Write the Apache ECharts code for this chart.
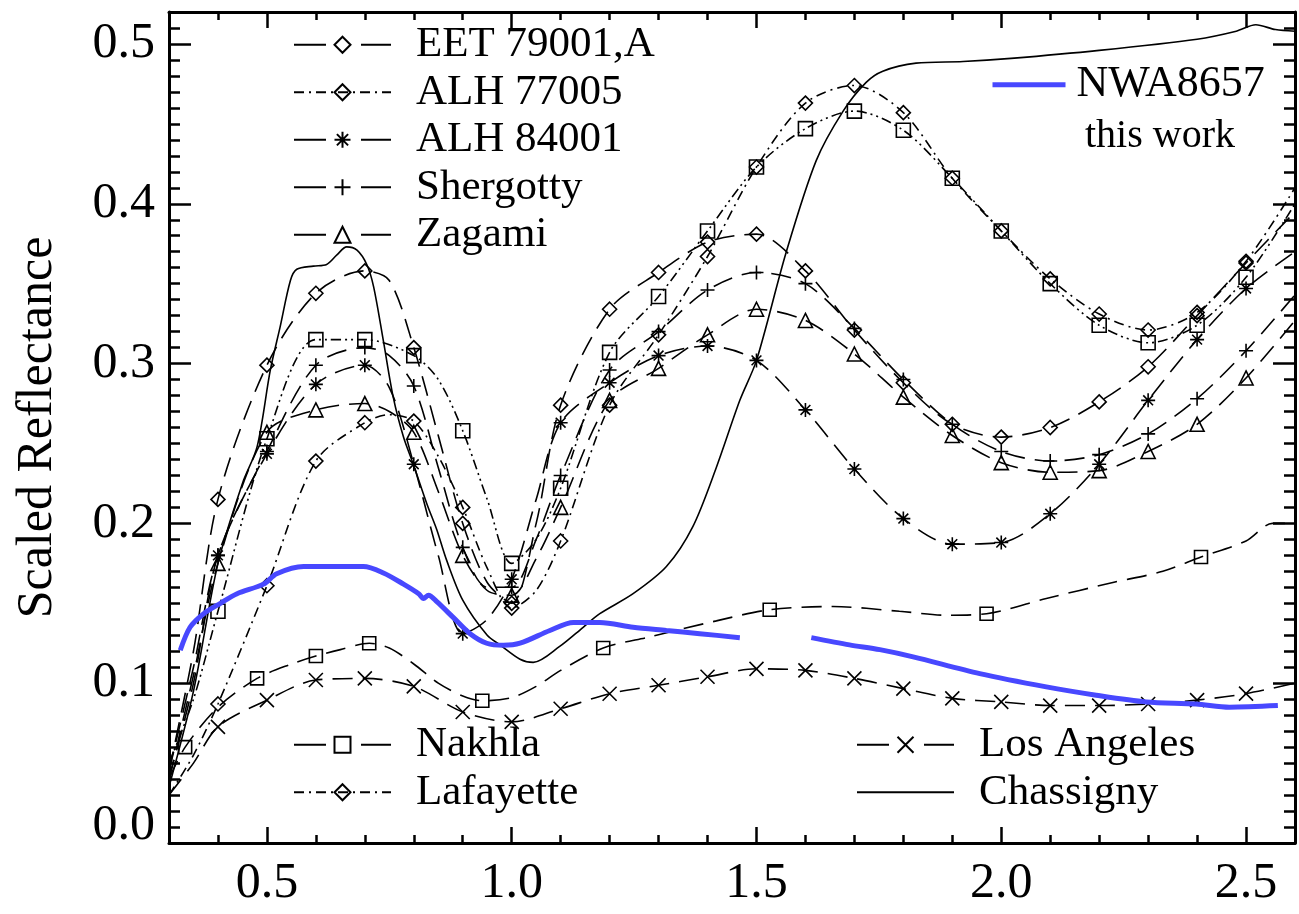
<!DOCTYPE html>
<html>
<head>
<meta charset="utf-8">
<title>Scaled reflectance of Martian meteorites</title>
<script src="https://cdn.jsdelivr.net/npm/echarts@6/dist/echarts.min.js"></script>
<style>
  html, body { margin: 0; padding: 0; background: #fff; }
  #chart { width: 1299px; height: 914px; }
</style>
</head>
<body>
<div id="chart"></div>
<script>
// ---- wavelength (µm) / reflectance data ----
const eetX = [0.3,0.35,0.4,0.5,0.6,0.7,0.75,0.8,0.85,0.9,0.95,1.0,1.05,1.1,1.2,1.3,1.4,1.5,1.6,1.7,1.8,1.9,2.0,2.1,2.2,2.3,2.4,2.5,2.6];
const eetY = [0.045,0.12,0.215,0.299,0.344,0.358,0.352,0.31,0.255,0.2,0.163,0.15,0.2,0.274,0.334,0.357,0.376,0.381,0.358,0.321,0.288,0.262,0.254,0.26,0.276,0.298,0.33,0.363,0.395];

const alh77005X = [0.3,0.35,0.4,0.5,0.6,0.7,0.75,0.8,0.85,0.9,0.95,1.0,1.05,1.1,1.2,1.3,1.4,1.5,1.6,1.7,1.8,1.9,2.0,2.1,2.2,2.3,2.4,2.5,2.6];
const alh77005Y = [0.03,0.055,0.087,0.161,0.239,0.263,0.268,0.264,0.242,0.21,0.172,0.147,0.158,0.189,0.274,0.318,0.367,0.423,0.463,0.474,0.457,0.416,0.383,0.353,0.331,0.321,0.332,0.364,0.41];

const alh84001X = [0.3,0.35,0.4,0.5,0.6,0.7,0.75,0.8,0.85,0.9,0.95,1.0,1.05,1.1,1.2,1.3,1.4,1.5,1.6,1.7,1.8,1.9,2.0,2.1,2.2,2.3,2.4,2.5,2.6];
const alh84001Y = [0.04,0.1,0.18,0.2435,0.287,0.299,0.285,0.237,0.18,0.131,0.14,0.165,0.215,0.263,0.288,0.305,0.311,0.302,0.271,0.234,0.203,0.187,0.188,0.206,0.237,0.277,0.315,0.347,0.37];

const shergottyX = [0.3,0.35,0.4,0.5,0.6,0.7,0.75,0.8,0.85,0.9,0.95,1.0,1.05,1.1,1.2,1.3,1.4,1.5,1.6,1.7,1.8,1.9,2.0,2.1,2.2,2.3,2.4,2.5,2.6];
const shergottyY = [0.045,0.11,0.18,0.245,0.299,0.31,0.305,0.286,0.235,0.185,0.16,0.16,0.19,0.23,0.296,0.32,0.346,0.357,0.35,0.322,0.29,0.262,0.245,0.239,0.243,0.256,0.278,0.308,0.343];

const zagamiX = [0.3,0.35,0.4,0.5,0.6,0.7,0.75,0.8,0.85,0.9,0.95,1.0,1.05,1.1,1.2,1.3,1.4,1.5,1.6,1.7,1.8,1.9,2.0,2.1,2.2,2.3,2.4,2.5,2.6];
const zagamiY = [0.04,0.105,0.175,0.257,0.271,0.275,0.27,0.257,0.22,0.18,0.158,0.155,0.178,0.21,0.277,0.297,0.318,0.334,0.327,0.306,0.279,0.255,0.238,0.232,0.233,0.245,0.262,0.291,0.327];

const nakhlaX = [0.3,0.333,0.4,0.48,0.55,0.6,0.65,0.709,0.75,0.8,0.85,0.9,0.94,1.0,1.05,1.1,1.187,1.282,1.418,1.527,1.656,1.792,1.888,1.97,2.092,2.228,2.33,2.408,2.5,2.554,2.6];
const nakhlaY = [0.04,0.06,0.085,0.103,0.112,0.117,0.121,0.125,0.122,0.112,0.1,0.092,0.089,0.091,0.098,0.108,0.122,0.129,0.139,0.146,0.148,0.145,0.1425,0.1435,0.153,0.163,0.17,0.179,0.189,0.2,0.2];
const nakhlaMarks = [0.333,0.48,0.6,0.709,0.94,1.187,1.527,1.97,2.408];

const lafayetteX = [0.3,0.35,0.4,0.5,0.6,0.7,0.8,0.85,0.9,0.95,1.0,1.05,1.1,1.2,1.3,1.4,1.5,1.6,1.7,1.8,1.9,2.0,2.1,2.2,2.3,2.4,2.5,2.6];
const lafayetteY = [0.05,0.09,0.145,0.253,0.315,0.315,0.305,0.29,0.258,0.215,0.175,0.19,0.222,0.307,0.342,0.383,0.423,0.447,0.458,0.446,0.416,0.383,0.35,0.324,0.313,0.324,0.354,0.4];

const losAngelesX = [0.3,0.35,0.4,0.5,0.6,0.7,0.8,0.9,1.0,1.1,1.2,1.3,1.4,1.5,1.6,1.7,1.8,1.9,2.0,2.1,2.2,2.3,2.4,2.5,2.6];
const losAngelesY = [0.03,0.05,0.0727,0.0894,0.102,0.103,0.098,0.082,0.0758,0.084,0.0934,0.0987,0.104,0.109,0.108,0.103,0.0966,0.0905,0.0883,0.086,0.086,0.087,0.0894,0.0935,0.1];

const chassignyX = [0.3,0.35,0.4,0.45,0.48,0.507,0.527,0.548,0.561,0.595,0.622,0.643,0.663,0.684,0.704,0.718,0.738,0.758,0.779,0.799,0.827,0.847,0.867,0.9,0.95,0.976,1.017,1.044,1.098,1.146,1.18,1.248,1.316,1.37,1.418,1.466,1.5,1.561,1.622,1.677,1.724,1.758,1.826,1.922,2.02,2.2,2.4,2.48,2.52,2.56,2.6];
const chassignyY = [0.035,0.095,0.175,0.225,0.248,0.296,0.323,0.352,0.359,0.361,0.362,0.368,0.373,0.371,0.362,0.348,0.314,0.279,0.254,0.237,0.212,0.196,0.177,0.152,0.13,0.124,0.115,0.113,0.123,0.135,0.1435,0.156,0.173,0.198,0.235,0.277,0.302,0.37,0.427,0.458,0.476,0.483,0.488,0.489,0.491,0.496,0.503,0.508,0.512,0.509,0.508];

// NWA 8657 was measured in two pieces (gap around 1.5 µm)
const nwaVisX = [0.323,0.343,0.371,0.405,0.439,0.493,0.52,0.575,0.643,0.697,0.738,0.779,0.81,0.82,0.83,0.847,0.881,0.915,0.949,0.983,1.017,1.078,1.126,1.18,1.248,1.316,1.384,1.466];
const nwaVisY = [0.1206,0.135,0.1435,0.15,0.156,0.162,0.1685,0.173,0.173,0.173,0.169,0.162,0.156,0.153,0.155,0.151,0.141,0.131,0.125,0.1237,0.125,0.133,0.138,0.138,0.135,0.133,0.131,0.1285];
const nwaIrX = [1.612,1.69,1.752,1.82,1.956,2.092,2.194,2.296,2.398,2.466,2.565];
const nwaIrY = [0.1285,0.124,0.121,0.1165,0.106,0.0977,0.0925,0.0883,0.087,0.085,0.086];

// symbols are plotted every 0.1 µm on the library curves
const tenthMarks = [0.4,0.5,0.6,0.7,0.8,0.9,1.0,1.1,1.2,1.3,1.4,1.5,1.6,1.7,1.8,1.9,2.0,2.1,2.2,2.3,2.4,2.5];

// axis ticks / labels
const xMajorTicks = [0.5, 1.0, 1.5, 2.0, 2.5];
const yMajorTicks = [0.0, 0.1, 0.2, 0.3, 0.4, 0.5];

const SERIF = '"Liberation Serif", "Times New Roman", serif';
const SYM_PLUS = 'path://M5,0L5,10M0,5L10,5';
const SYM_CROSS = 'path://M0,0L10,10M0,10L10,0';
const SYM_STAR = 'path://M5,0L5,10M0,5L10,5M1.5,1.5L8.5,8.5M1.5,8.5L8.5,1.5';

const DASH = [20, 10];
const DASH_DOT = [10, 5, 2, 5];
const DASH_DOT_DOT = [10, 4, 2, 4, 2, 4];

function buildData(xs, ys, marks, markSymbol) {
  return xs.map((x, i) => {
    const on = marks.some(m => Math.abs(m - x) < 1e-6);
    if (!on) return { value: [x, ys[i]], symbol: 'none' };
    return markSymbol ? { value: [x, ys[i]], symbol: markSymbol } : [x, ys[i]];
  });
}

function curve(name, xs, ys, marks, symbol, size, dash, markSymbol) {
  return {
    type: 'line',
    name: name,
    data: buildData(xs, ys, marks, markSymbol),
    symbol: symbol,
    symbolSize: size,
    showSymbol: true,
    showAllSymbol: true,
    smooth: 0.3,
    lineStyle: { color: '#000', width: 1.6, type: dash },
    itemStyle: { color: 'transparent', borderColor: '#000', borderWidth: 1.6 },
    emphasis: { disabled: true },
    z: 3
  };
}

const series = [
  curve('EET 79001,A', eetX, eetY, tenthMarks, 'diamond', 14, DASH),
  curve('ALH 77005', alh77005X, alh77005Y, tenthMarks, 'diamond', 14, DASH_DOT),
  curve('ALH 84001', alh84001X, alh84001Y, tenthMarks, SYM_STAR, 14, DASH),
  curve('Shergotty', shergottyX, shergottyY, tenthMarks, SYM_PLUS, 14, DASH),
  curve('Zagami', zagamiX, zagamiY, tenthMarks, 'triangle', 14, DASH),
  curve('Nakhla', nakhlaX, nakhlaY, nakhlaMarks, 'rect', 13, DASH),
  curve('Lafayette', lafayetteX, lafayetteY, tenthMarks, 'diamond', 14, DASH_DOT_DOT, 'rect'),
  curve('Los Angeles', losAngelesX, losAngelesY, tenthMarks, SYM_CROSS, 14, DASH),
  {
    type: 'line', name: 'Chassigny',
    data: chassignyX.map((x, i) => [x, chassignyY[i]]),
    symbol: 'circle', showSymbol: false, smooth: 0.3,
    lineStyle: { color: '#000', width: 1.6, type: 'solid' },
    itemStyle: { color: 'transparent', borderWidth: 0 },
    emphasis: { disabled: true }, z: 3
  }
];
const NWA_BLUE = '#4848ff';
[[nwaVisX, nwaVisY], [nwaIrX, nwaIrY]].forEach(([xs, ys]) => {
  series.push({
    type: 'line', name: 'NWA8657',
    data: xs.map((x, i) => [x, ys[i]]),
    symbol: 'circle', showSymbol: false, smooth: 0.3,
    lineStyle: { color: NWA_BLUE, width: 5 },
    itemStyle: { color: 'transparent', borderWidth: 0 },
    emphasis: { disabled: true }, z: 5
  });
});

const LEG_GAP = [32, 35];
const legendText = { fontFamily: SERIF, fontSize: 43, color: '#000', lineHeight: 47.5, padding: [0, 0, 0, 20] };
function legendBox(left, top, items, width) {
  return {
    orient: 'vertical', left: left, top: top, padding: 0, itemGap: 0,
    itemWidth: width || 97, itemHeight: 20, selectedMode: false,
    textStyle: legendText,
    data: items
  };
}

const tickStyle = { color: '#000', width: 2.5 };
const lineStyle = { color: '#000', width: 3 };
const labelFont = { fontFamily: SERIF, fontSize: 50, color: '#000' };
function xAxisDef(position, major) {
  return {
    type: 'value', position: position, min: 0.3, max: 2.6,
    interval: major ? undefined : 0.1,
    axisLine: { show: !major, onZero: false, lineStyle: lineStyle },
    axisTick: major
      ? { show: true, inside: true, length: 16, lineStyle: tickStyle, customValues: xMajorTicks }
      : { show: true, inside: true, length: 8, lineStyle: tickStyle },
    axisLabel: (major && position === 'bottom')
      ? Object.assign({ show: true, customValues: xMajorTicks, formatter: v => v.toFixed(1), margin: 16 }, labelFont)
      : { show: false },
    splitLine: { show: false }
  };
}
function yAxisDef(position, major) {
  const def = {
    type: 'value', position: position, min: 0, max: 0.52,
    interval: major ? undefined : 0.01,
    axisLine: { show: !major, onZero: false, lineStyle: lineStyle },
    axisTick: major
      ? { show: true, inside: true, length: 22, lineStyle: tickStyle, customValues: yMajorTicks }
      : { show: true, inside: true, length: 11, lineStyle: tickStyle },
    axisLabel: (major && position === 'left')
      ? Object.assign({
          show: true, customValues: yMajorTicks, margin: 14,
          // the bottom label sits a little above its tick so it clears the x axis
          formatter: v => (v === 0 ? '{low|0.0}' : v.toFixed(1)),
          rich: { low: Object.assign({ padding: [0, 0, 34, 0] }, labelFont) }
        }, labelFont)
      : { show: false },
    splitLine: { show: false }
  };
  if (major && position === 'left') {
    def.name = 'Scaled Reflectance';
    def.nameLocation = 'middle';
    def.nameRotate = 90;
    def.nameGap = 106;
    def.nameTextStyle = labelFont;
  }
  return def;
}

const option = {
  animation: false,
  backgroundColor: '#fff',
  grid: { left: 169, right: 4, top: 12, bottom: 71, containLabel: false },
  xAxis: [xAxisDef('bottom', false), xAxisDef('bottom', true), xAxisDef('top', false), xAxisDef('top', true)],
  yAxis: [yAxisDef('left', false), yAxisDef('left', true), yAxisDef('right', false), yAxisDef('right', true)],
  title: {
    text: 'this work', left: 1085, top: 116, padding: 0,
    textStyle: { fontFamily: SERIF, fontSize: 40, fontWeight: 'normal', color: '#000' }
  },
  legend: [
    legendBox(293, 21, [
      { name: 'EET 79001,A', lineStyle: { type: LEG_GAP } },
      { name: 'ALH 77005', lineStyle: { type: DASH_DOT } },
      { name: 'ALH 84001', lineStyle: { type: LEG_GAP } },
      { name: 'Shergotty', lineStyle: { type: LEG_GAP } },
      { name: 'Zagami', lineStyle: { type: LEG_GAP } }
    ]),
    legendBox(293, 721, [
      { name: 'Nakhla', lineStyle: { type: LEG_GAP } },
      { name: 'Lafayette', lineStyle: { type: DASH_DOT } }
    ]),
    legendBox(856, 721, [
      { name: 'Los Angeles', lineStyle: { type: LEG_GAP } },
      { name: 'Chassigny' }
    ]),
    Object.assign(legendBox(990, 61, [
      { name: 'NWA8657', lineStyle: { width: 5, color: NWA_BLUE } }
    ], 73), {
      textStyle: Object.assign({}, legendText, { fontSize: 44, padding: [0, 0, 0, 6] })
    })
  ],
  series: series
};

const chart = echarts.init(document.getElementById('chart'));
chart.setOption(option);
</script>
</body>
</html>
